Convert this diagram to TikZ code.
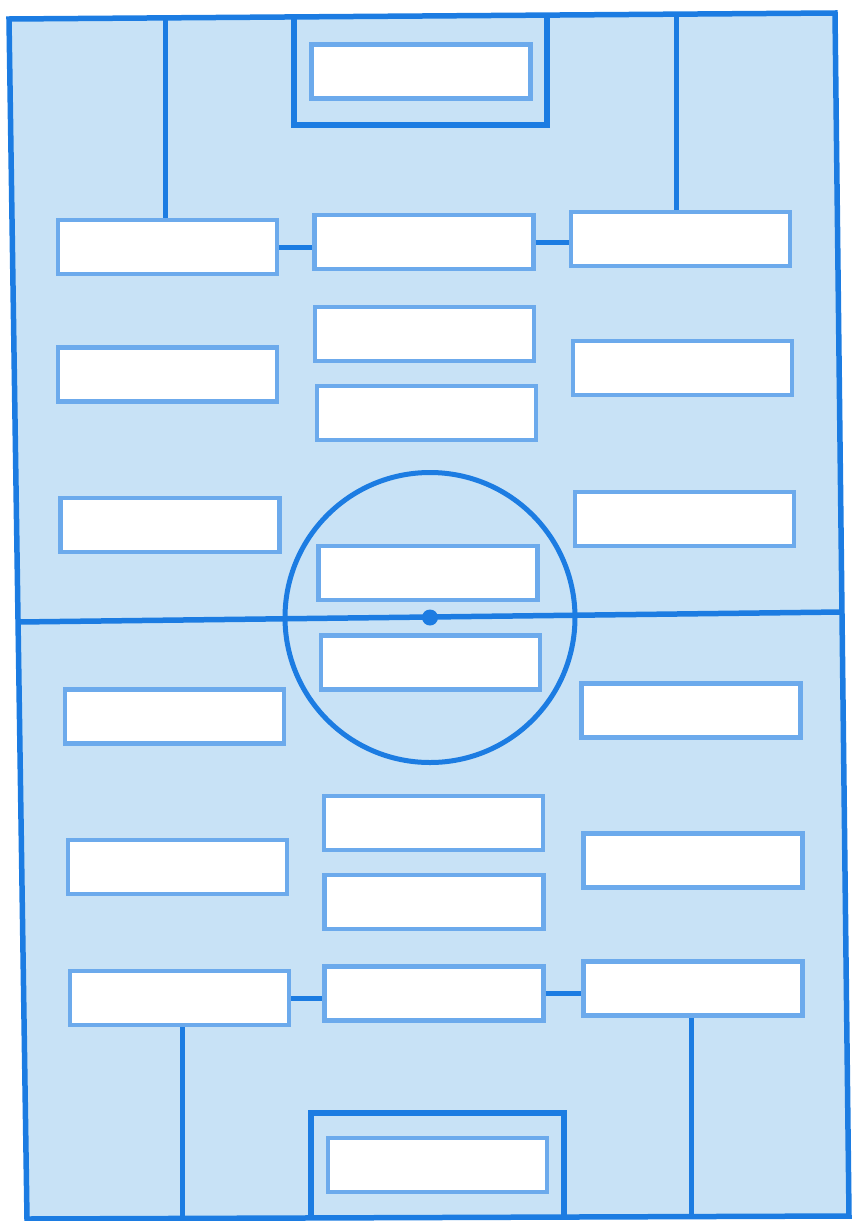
\documentclass[tikz,border=0pt]{standalone}
\definecolor{fieldbg}{RGB}{200,226,246}
\definecolor{lineblue}{RGB}{28,124,226}
\definecolor{boxblue}{RGB}{108,170,236}
\tikzset{
  fieldline/.style={draw=lineblue, line width=5.5pt},
  slot/.style={draw=boxblue, line width=4.2pt, fill=white, rectangle, inner sep=0pt,
    minimum width=219pt, minimum height=54pt},
  link/.style={draw=lineblue, line width=5pt}
}
\begin{document}
\begin{tikzpicture}[x=1pt,y=-1pt]
\useasboundingbox (0,0) rectangle (852,1221);
% field
\coordinate (TL) at (9,19);
\coordinate (TR) at (835,13);
\coordinate (BR) at (849,1216);
\coordinate (BL) at (27,1219);
\fill[fieldbg] (TL) -- (TR) -- (BR) -- (BL) -- cycle;
% halfway line and circle
\coordinate (hl) at (18,622);
\coordinate (hr) at (841,612);
\draw[fieldline] (hl) -- (hr);
\coordinate (cc) at (430,617.5);
\draw[fieldline, line width=5pt] (cc) circle (145);
\fill[lineblue] (cc) circle (8);
% goal boxes
\draw[fieldline] (294,17) -- (294,125) -- (547,125) -- (547,15);
\draw[fieldline] (311,1218) -- (311,1113) -- (564,1113) -- (564,1216);
% outline
\draw[fieldline, line join=miter] (TL) -- (TR) -- (BR) -- (BL) -- cycle;
% slots
\node[slot] (g1) at (421,71.5) {};
\node[slot] (l1) at (167.5,247) {};
\node[slot] (m1) at (424,242) {};
\node[slot] (r1) at (680.5,239) {};
\node[slot] (m2) at (424.5,334) {};
\node[slot] (m3) at (426.5,413) {};
\node[slot] (l2) at (167.5,374.5) {};
\node[slot] (r2) at (682.5,368) {};
\node[slot] (l3) at (170,525) {};
\node[slot] (r3) at (684.5,519) {};
\node[slot] (c1) at (428,573) {};
\node[slot] (c2) at (430.5,662.5) {};
\node[slot] (l4) at (174.5,716.5) {};
\node[slot] (r4) at (691,710.5) {};
\node[slot] (m5) at (433.5,823) {};
\node[slot] (m6) at (434,902) {};
\node[slot] (l5) at (177.5,867) {};
\node[slot] (r5) at (693,860.5) {};
\node[slot] (l6) at (179.5,998) {};
\node[slot] (m7) at (434,993.5) {};
\node[slot] (r6) at (693,988.5) {};
\node[slot] (g2) at (437.5,1165) {};
% links
\draw[link] (l1.east) -- (m1.west |- l1.east);
\draw[link] (m1.east) -- (r1.west |- m1.east);
\draw[link] (l6.east) -- (m7.west |- l6.east);
\draw[link] (m7.east) -- (r6.west |- m7.east);
% touch lines to the top and bottom
\coordinate (t1) at (165,18);
\coordinate (t2) at (676,13);
\coordinate (b1) at (182,1219);
\coordinate (b2) at (691,1216);
\draw[link] (t1 |- l1.north) -- (t1);
\draw[link] (t2 |- r1.north) -- (t2);
\draw[link] (b1 |- l6.south) -- (b1);
\draw[link] (b2 |- r6.south) -- (b2);
\end{tikzpicture}
\end{document}
